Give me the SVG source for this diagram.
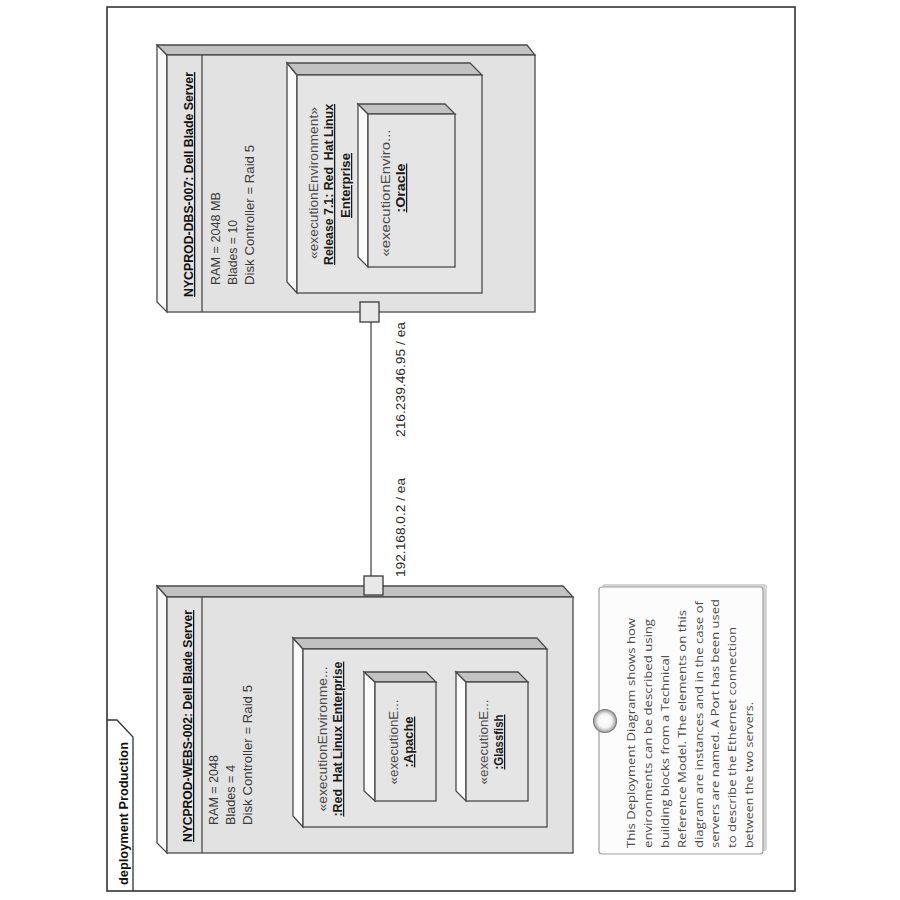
<svg xmlns="http://www.w3.org/2000/svg" width="900" height="900" viewBox="0 0 900 900">
<defs>
<style>
.face{fill:#e2e2e2;stroke:#4a4a4a;stroke-width:1.3}
.inface{fill:#e5e5e5;stroke:#4a4a4a;stroke-width:1.3}
.top{fill:#c2c2c2;stroke:#4a4a4a;stroke-width:1.3}
.side{fill:#fbfbfb;stroke:#4a4a4a;stroke-width:1.3}
.div{stroke:#4a4a4a;stroke-width:1.3}
text{font-family:"Liberation Sans",Arial,sans-serif}
.name{font-weight:bold;font-size:12.5px;fill:#111;text-decoration:underline}
.attr{font-size:13px;fill:#3a3a3a}
.st{font-size:12.5px;fill:#4a4a4a}
.bn{font-weight:bold;font-size:12.5px;fill:#1a1a1a;text-decoration:underline}
.lbl{font-size:12.5px;fill:#2a2a2a}
.note{font-family:"Open Sans","Liberation Sans",sans-serif;font-size:11.5px;fill:#4a4a4a}
.port{fill:#e8e8e8;stroke:#3a3a3a;stroke-width:1.3}
</style>
<radialGradient id="ring" cx="0.5" cy="0.5" r="0.5">
<stop offset="0" stop-color="#ffffff"/>
<stop offset="0.6" stop-color="#f4f4f4"/>
<stop offset="1" stop-color="#9a9a9a"/>
</radialGradient>
</defs>
<rect width="900" height="900" fill="#fff"/>

<g id="frame">
<rect x="107" y="7" width="688" height="884" fill="none" stroke="#333" stroke-width="1.6"/>
<polyline points="107,720 117,720 133,737 133,891" fill="none" stroke="#333" stroke-width="1.3"/>
<text x="128" y="885" transform="rotate(-90 128 885)" font-weight="bold" font-size="12.5" fill="#111" textLength="143" lengthAdjust="spacingAndGlyphs">deployment Production</text>
</g>

<g id="dbs-server">
<polygon class="side" points="157,45 167,55 167,312 157,302"/>
<polygon class="top" points="157,45 527,45 535,55 167,55"/>
<rect class="face" x="167" y="55" width="368" height="257"/>
<line class="div" x1="202" y1="55" x2="202" y2="312"/>
<text class="name" x="193" y="184.5" text-anchor="middle" transform="rotate(-90 193 184.5)" textLength="225" lengthAdjust="spacingAndGlyphs">NYCPROD-DBS-007: Dell Blade Server</text>
<text class="attr" x="220" y="285" transform="rotate(-90 220 285)" textLength="93" lengthAdjust="spacingAndGlyphs">RAM = 2048 MB</text>
<text class="attr" x="237" y="285" transform="rotate(-90 237 285)" textLength="65" lengthAdjust="spacingAndGlyphs">Blades = 10</text>
<text class="attr" x="254" y="285" transform="rotate(-90 254 285)" textLength="140" lengthAdjust="spacingAndGlyphs">Disk Controller = Raid 5</text>
</g>

<g id="dbs-linux">
<polygon class="side" points="287,63 297,75 297,293 287,282"/>
<polygon class="top" points="287,63 470,63 482,75 297,75"/>
<rect class="inface" x="297" y="75" width="185" height="218"/>
<text class="st" x="318" y="183" text-anchor="middle" transform="rotate(-90 318 183)" textLength="152" lengthAdjust="spacingAndGlyphs">«executionEnvironment»</text>
<text class="bn" xml:space="preserve" x="333" y="184.5" text-anchor="middle" transform="rotate(-90 333 184.5)" textLength="161" lengthAdjust="spacingAndGlyphs">Release 7.1: Red  Hat Linux</text>
<text class="bn" x="350" y="185.5" text-anchor="middle" transform="rotate(-90 350 185.5)" textLength="65" lengthAdjust="spacingAndGlyphs">Enterprise</text>
</g>

<g id="dbs-oracle">
<polygon class="side" points="358,104 368,114 368,267 358,257"/>
<polygon class="top" points="358,104 445,104 455,114 368,114"/>
<rect class="inface" x="368" y="114" width="87" height="153"/>
<text class="st" x="390" y="193" text-anchor="middle" transform="rotate(-90 390 193)" textLength="127" lengthAdjust="spacingAndGlyphs">«executionEnviro...</text>
<text class="bn" x="405" y="188" text-anchor="middle" transform="rotate(-90 405 188)" textLength="49" lengthAdjust="spacingAndGlyphs">:Oracle</text>
</g>

<g id="webs-server">
<polygon class="side" points="157,586 167,597 167,853 157,843"/>
<polygon class="top" points="157,586 563,586 573,597 167,597"/>
<rect class="face" x="167" y="597" width="406" height="256"/>
<line class="div" x1="202" y1="597" x2="202" y2="853"/>
<text class="name" x="192" y="726" text-anchor="middle" transform="rotate(-90 192 726)" textLength="232" lengthAdjust="spacingAndGlyphs">NYCPROD-WEBS-002: Dell Blade Server</text>
<text class="attr" x="218" y="825" transform="rotate(-90 218 825)" textLength="70" lengthAdjust="spacingAndGlyphs">RAM = 2048</text>
<text class="attr" x="235" y="825" transform="rotate(-90 235 825)" textLength="60" lengthAdjust="spacingAndGlyphs">Blades = 4</text>
<text class="attr" x="252" y="825" transform="rotate(-90 252 825)" textLength="140" lengthAdjust="spacingAndGlyphs">Disk Controller = Raid 5</text>
</g>

<g id="webs-linux">
<polygon class="side" points="293,638 303,649 303,827 293,816"/>
<polygon class="top" points="293,638 537,638 547,649 303,649"/>
<rect class="inface" x="303" y="649" width="244" height="178"/>
<text class="st" x="327" y="739" text-anchor="middle" transform="rotate(-90 327 739)" textLength="145" lengthAdjust="spacingAndGlyphs">«executionEnvironme...</text>
<text class="bn" xml:space="preserve" x="342" y="739" text-anchor="middle" transform="rotate(-90 342 739)" textLength="155" lengthAdjust="spacingAndGlyphs">:Red  Hat Linux Enterprise</text>
</g>

<g id="webs-apache">
<polygon class="side" points="364,672 375,682 375,801 364,791"/>
<polygon class="top" points="364,672 426,672 436,682 375,682"/>
<rect class="inface" x="375" y="682" width="61" height="119"/>
<text class="st" x="398" y="742" text-anchor="middle" transform="rotate(-90 398 742)" textLength="85" lengthAdjust="spacingAndGlyphs">«executionE...</text>
<text class="bn" x="413" y="742" text-anchor="middle" transform="rotate(-90 413 742)" textLength="51" lengthAdjust="spacingAndGlyphs">:Apache</text>
</g>

<g id="webs-glassfish">
<polygon class="side" points="456,672 466,682 466,801 456,791"/>
<polygon class="top" points="456,672 518,672 528,682 466,682"/>
<rect class="inface" x="466" y="682" width="62" height="119"/>
<text class="st" x="488" y="742" text-anchor="middle" transform="rotate(-90 488 742)" textLength="85" lengthAdjust="spacingAndGlyphs">«executionE...</text>
<text class="bn" x="503" y="742" text-anchor="middle" transform="rotate(-90 503 742)" textLength="55" lengthAdjust="spacingAndGlyphs">:Glassfish</text>
</g>

<g id="connectors">
<line x1="371" y1="322" x2="371" y2="576" stroke="#4a4a4a" stroke-width="1.3"/>
<rect class="port" x="360" y="302" width="19" height="20"/>
<rect class="port" x="364" y="576" width="19" height="19"/>
<text class="lbl" x="405" y="437" transform="rotate(-90 405 437)" textLength="115" lengthAdjust="spacingAndGlyphs">216.239.46.95 / ea</text>
<text class="lbl" x="405" y="577" transform="rotate(-90 405 577)" textLength="99" lengthAdjust="spacingAndGlyphs">192.168.0.2 / ea</text>
</g>

<g id="note">
<rect x="602" y="584" width="165" height="267" rx="3" fill="#d4d4d4"/>
<rect x="599" y="587" width="164" height="267" rx="3" fill="#fcfcfc" stroke="#a0a0a0" stroke-width="1.2"/>
<circle cx="605" cy="721" r="11.5" fill="url(#ring)" stroke="#808080" stroke-width="1.2"/>
<text class="note" x="635" y="848" transform="rotate(-90 635 848)" textLength="230" lengthAdjust="spacingAndGlyphs">This Deployment Diagram shows how</text>
<text class="note" x="652" y="848" transform="rotate(-90 652 848)" textLength="229" lengthAdjust="spacingAndGlyphs">environments can be described using</text>
<text class="note" x="669" y="848" transform="rotate(-90 669 848)" textLength="193" lengthAdjust="spacingAndGlyphs">building blocks from a Technical</text>
<text class="note" x="686" y="848" transform="rotate(-90 686 848)" textLength="238" lengthAdjust="spacingAndGlyphs">Reference Model. The elements on this</text>
<text class="note" x="703" y="848" transform="rotate(-90 703 848)" textLength="247" lengthAdjust="spacingAndGlyphs">diagram are instances and in the case of</text>
<text class="note" x="719" y="848" transform="rotate(-90 719 848)" textLength="249" lengthAdjust="spacingAndGlyphs">servers are named. A Port has been used</text>
<text class="note" x="736" y="848" transform="rotate(-90 736 848)" textLength="221" lengthAdjust="spacingAndGlyphs">to describe the Ethernet connection</text>
<text class="note" x="753" y="848" transform="rotate(-90 753 848)" textLength="146" lengthAdjust="spacingAndGlyphs">between the two servers.</text>
</g>
</svg>
